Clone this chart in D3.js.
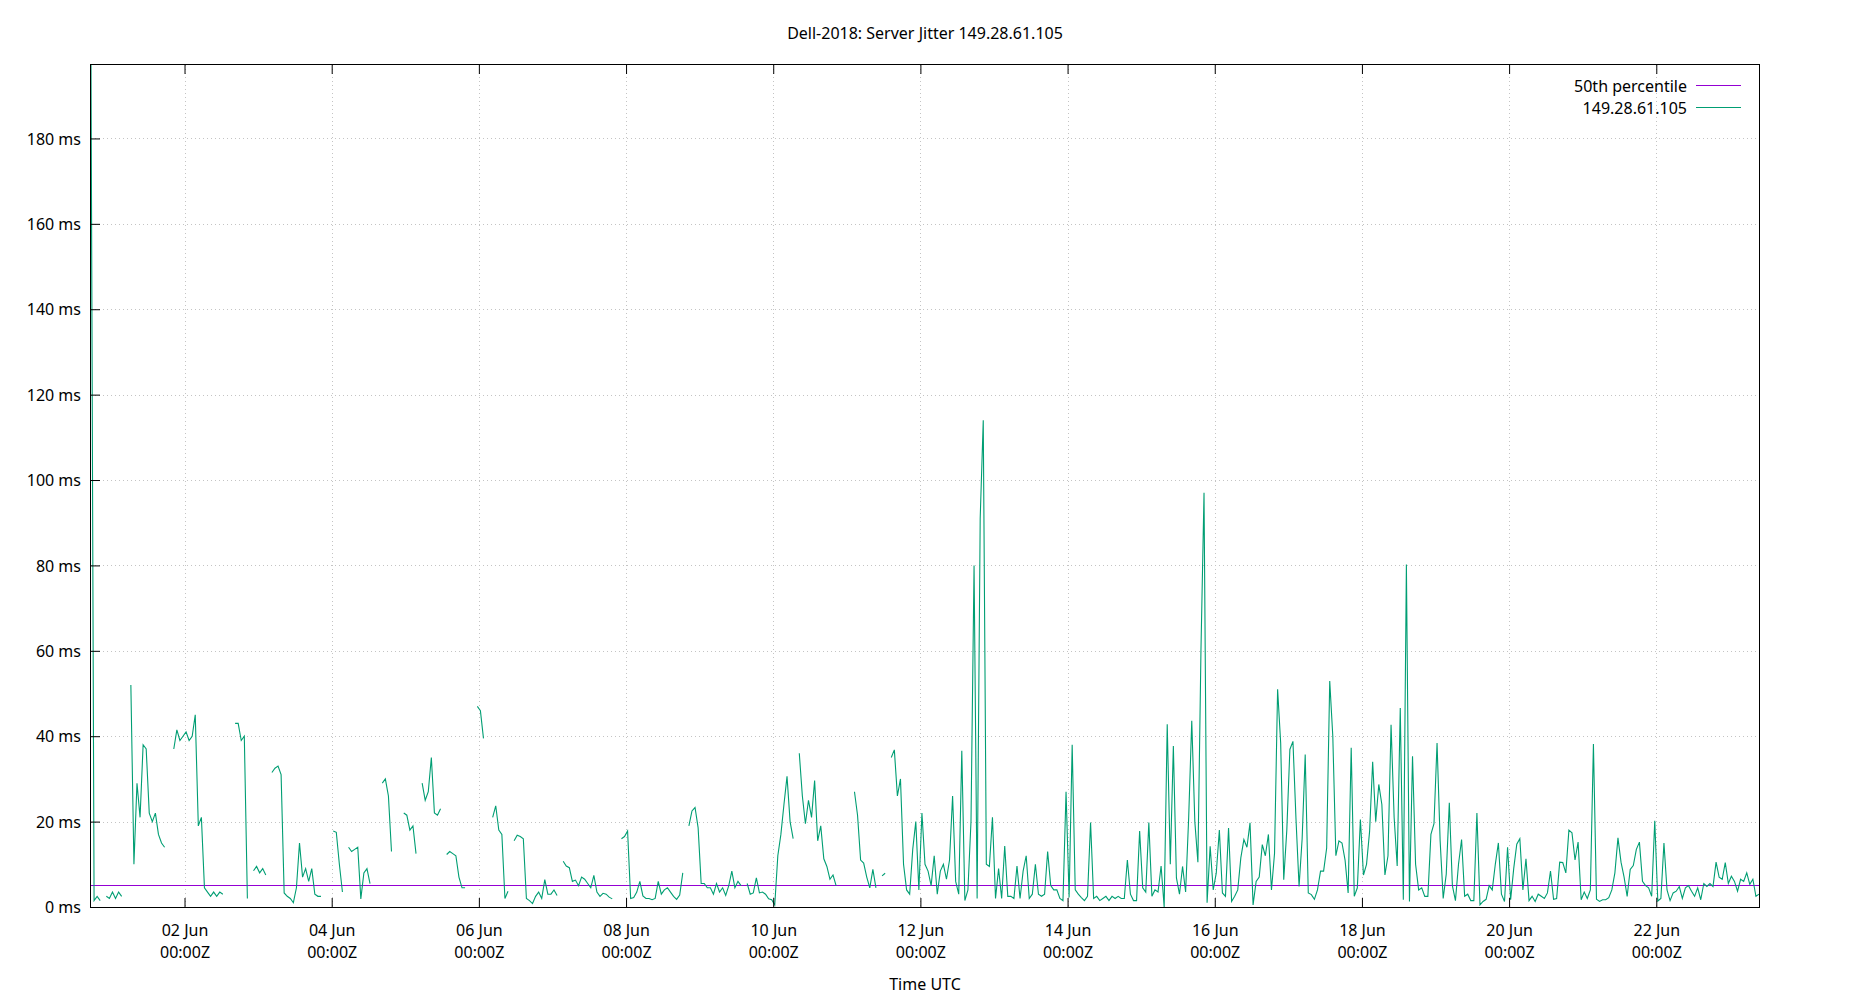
<!DOCTYPE html>
<html>
<head>
<meta charset="utf-8">
<title>Server Jitter</title>
<script src="https://cdn.jsdelivr.net/npm/d3@7"></script>
<style>
    body { margin: 0; background: #fff; }
    svg text { font-family: "Noto Sans", sans-serif; font-size: 16px; fill: #000; }
</style>
</head>
<body>
<div class="jitter-chart"></div>
<script>
(function(){
    const chartTitle = 'Dell-2018: Server Jitter 149.28.61.105';
    const xLabel = 'Time UTC';
    const legendNames = ['50th percentile', '149.28.61.105'];

    // one reading per hour, starting at 31 May 17:30Z; null = no data (gap in the line)
    const seriesStart = '2018-05-31T17:30:00Z';
    const seriesEnd = '2018-06-23T09:30:00Z';
    const ms_31May = [197.2, 1.5, 2.5, 1.5, null, 2.5, 2, 3.5, 2, 3.5,
        2.5, null, null, 52, 10, 29, 21, 38, 37, 22,
        20, 22, 17, 15, 14, null, null, 37, 41.5, 39,
        40, 41, 39, 40, 45, 19, 21, 4.5, 3.5, 2.5,
        3.5, 2.5, 3.5, 3, null, null, null, 43];
    const ms_02Jun = [43, 39, 40, 2, null, 8.5, 9.5, 8, 9, 7.5,
        null, 31.5, 32.5, 33, 31, 3.3, 2.5, 2, 1, 4.5,
        15, 7, 9, 6, 9, 3, 2.5, 2.5, null, null,
        null, 17.8, 17.5, 10, 3.5, null, 14, 13, 13.5, 14,
        1.9, 8, 9, 5.5, null, null, null, 29];
    const ms_04Jun = [30, 26, 13, null, null, null, 22, 21.5, 18, 19,
        12.5, null, 29, 25, 27, 35, 22, 21.5, 23, null,
        12.3, 13, 12.5, 12, 7, 4.5, 4.5, null, null, null,
        47, 46, 39.5, null, null, 21, 23.7, 18, 17, 2,
        3.7, null, 15.5, 16.8, 16.5, 16, 2, 1.5];
    const ms_06Jun = [0.8, 2.5, 3.5, 2, 6.4, 3, 3, 4, 2.7, null,
        10.7, 9.6, 9.2, 6, 6.3, 5, 7, 6.5, 5.5, 4.5,
        7.4, 3.5, 2.5, 3.2, 3, 2.3, 1.9, null, null, 16,
        16.5, 17.8, 2, 2.2, 3.5, 6, 2.6, 2, 2, 1.7,
        2, 6, 3, 4, 4.5, 3.5, 2.5, 1.8];
    const ms_08Jun = [2.8, 8, null, 19, 22.5, 23.3, 18.6, 5.5, 5.5, 4.5,
        4.5, 3, 5.5, 3.5, 4.5, 2.7, 5, 8.4, 4.5, 6,
        5, null, 5.5, 3, 3.3, 6.8, 3.3, 3.5, 3, 1.9,
        1.7, 0.5, 12, 17, 24, 30.6, 20, 16, null, 36,
        26, 19.5, 25, 21, 29.6, 15.5, 19, 11.3];
    const ms_10Jun = [9.5, 6.5, 7.5, 5, null, null, null, null, null, 27,
        21.5, 11, 10.3, 7, 4.5, 8.8, 4.5, null, 7.3, 7.9,
        null, 35, 36.8, 26, 30, 10, 4, 3, 13.5, 20,
        4, 22, 10, 8.4, 5, 12, 3, 8.4, 10, 6.5,
        11, 26, 6, 3, 36.6, 1.5, 4, 20];
    const ms_12Jun = [80, 2, 91, 114, 10, 9.5, 21, 2, 9, 2,
        14.3, 2.5, 2.5, 2, 9.6, 2, 8.4, 12, 2, 3,
        10, 3, 2.5, 3, 13, 5, 4, 4, 2, 1.5,
        27, 2.2, 38, 4, 3, 2.2, 1.5, 2.5, 19.8, 2,
        2.5, 1.5, 2, 2.5, 1.5, 2.5, 2, 2.5];
    const ms_14Jun = [2, 2, 11, 3, 1.5, 1.5, 17.8, 4.5, 3.5, 19.8,
        2.5, 4, 3.5, 9.6, 0, 42.8, 10, 37.7, 6.8, 3,
        9.5, 3.5, 21, 43.6, 20, 10.5, 60, 97, 1, 14.2,
        4, 8, 18, 3.3, 2.5, 18.5, 1.3, 2.5, 4, 11.5,
        15.8, 14, 19.7, 0.5, 6, 7, 14.6, 12];
    const ms_16Jun = [17, 4, 12.6, 51, 38.4, 6.4, 18, 36.9, 38.8, 20.5,
        4.8, 16, 35.7, 3.3, 2.9, 1.8, 4, 8.4, 8.4, 13.8,
        52.9, 40, 12, 15.5, 15, 11, 3.3, 37.3, 2.5, 4.5,
        20.5, 7.5, 10, 17.7, 34, 20, 28.7, 24, 7.5, 12,
        42.7, 21, 9.6, 46.6, 1.7, 80.2, 1.3, 35.3];
    const ms_18Jun = [10, 4, 4.5, 2.5, 2.5, 17, 19.5, 38.4, 15.6, 2,
        7.7, 24.4, 5, 1.5, 10, 15.8, 2.5, 3, 1.5, 1.5,
        22, 0.5, 1.3, 1.8, 5, 4, 10, 15, 3, 1.3,
        14, 1.7, 9, 14.7, 16, 4, 11.3, 1.5, 2.5, 1.3,
        3, 2.5, 2, 3.3, 8.4, 1.8, 2, 10.5];
    const ms_20Jun = [10.4, 8, 18, 17.4, 11, 15.2, 1.7, 3.5, 2, 4,
        38.2, 1.8, 1.3, 1.7, 1.7, 2.2, 4, 8, 16.2, 10.5,
        7, 2.5, 8.8, 9.7, 13.5, 15.2, 6, 5, 4.5, 2.5,
        20.2, 1.4, 2, 15, 4, 1.5, 3.3, 3.7, 4.8, 2,
        4.5, 5, 3.7, 2.5, 4.5, 1.7, 5.5, 4.8];
    const ms_22Jun = [5.5, 4.8, 10.5, 7, 6.5, 10.4, 5.5, 7.2, 6, 3.7,
        6.5, 6, 8, 5.3, 6.5, 2.5, 3];

    const percentile50 = 5.1;
    const yMax = 197.2;
    const yTicks = [0, 20, 40, 60, 80, 100, 120, 140, 160, 180];
    const xTickDays = ['2018-06-02', '2018-06-04', '2018-06-06', '2018-06-08', '2018-06-10',
        '2018-06-12', '2018-06-14', '2018-06-16', '2018-06-18', '2018-06-20', '2018-06-22'];

    function buildSeries() {
        const values = [].concat(ms_31May, ms_02Jun, ms_04Jun, ms_06Jun, ms_08Jun, ms_10Jun,
            ms_12Jun, ms_14Jun, ms_16Jun, ms_18Jun, ms_20Jun, ms_22Jun);
        const t0 = new Date(seriesStart).getTime();
        return values.map((v, i) => ({ date: new Date(t0 + i * 3600e3), value: v }));
    }

    function setupCanvas(points) {
        const svg_width = 1850;
        const svg_height = 1000;
        const margin = { top: 65, right: 91, bottom: 93, left: 91 };
        const width = svg_width - margin.left - margin.right;
        const height = svg_height - margin.top - margin.bottom;

        const svg = d3.select('.jitter-chart').append('svg')
            .attr('width', svg_width).attr('height', svg_height);
        const g = svg.append('g')
            .attr('transform', `translate(${margin.left},${margin.top})`);

        const xScale = d3.scaleUtc()
            .domain([new Date(seriesStart), new Date(seriesEnd)])
            .range([0, width]);
        const yScale = d3.scaleLinear().domain([0, yMax]).range([height, 0]);
        const tickDates = xTickDays.map(d => new Date(d + 'T00:00:00Z'));

        // grid (dotted)
        const grid = g.append('g').attr('class', 'grid')
            .style('stroke', '#c4c4c4').style('stroke-width', 1)
            .style('stroke-dasharray', '1,3');
        grid.selectAll('.gx').data(tickDates).enter().append('line')
            .attr('x1', d => Math.round(xScale(d)) + 0.5).attr('x2', d => Math.round(xScale(d)) + 0.5)
            .attr('y1', 0).attr('y2', height);
        grid.selectAll('.gy').data(yTicks.filter(d => d > 0)).enter().append('line')
            .attr('x1', 0).attr('x2', width)
            .attr('y1', d => Math.round(yScale(d)) + 0.5).attr('y2', d => Math.round(yScale(d)) + 0.5);

        // clip
        svg.append('defs').append('clipPath').attr('id', 'plot-clip')
            .append('rect').attr('width', width).attr('height', height);

        const plot = g.append('g').attr('clip-path', 'url(#plot-clip)');

        // 50th percentile
        plot.append('line')
            .attr('x1', 0).attr('x2', width)
            .attr('y1', Math.round(yScale(percentile50)) + 0.5)
            .attr('y2', Math.round(yScale(percentile50)) + 0.5)
            .style('stroke', '#9400d3').style('stroke-width', 1.2);

        // jitter series
        const lineGen = d3.line()
            .defined(d => d.value != null)
            .x(d => xScale(d.date))
            .y(d => yScale(d.value));
        plot.append('path')
            .attr('d', lineGen(points))
            .style('fill', 'none')
            .style('stroke', '#009e73')
            .style('stroke-width', 1.1)
            .style('stroke-linejoin', 'miter');

        // x axis (bottom) with two-line labels
        const xAxis = d3.axisBottom(xScale).tickValues(tickDates)
            .tickSizeInner(-9).tickSizeOuter(0).tickFormat('');
        const xg = g.append('g').attr('class', 'x axis')
            .attr('transform', `translate(0,${height})`)
            .call(xAxis);
        xg.select('.domain').remove();
        xg.selectAll('.tick line').style('stroke', '#000');
        const fmtDay = d3.utcFormat('%d %b');
        const fmtTime = d3.utcFormat('%H:%MZ');
        xg.selectAll('.tick text').remove();
        xg.selectAll('.tick').append('text')
            .attr('text-anchor', 'middle')
            .each(function(d) {
                const t = d3.select(this);
                t.append('tspan').attr('x', 0).attr('y', 29).text(fmtDay(d));
                t.append('tspan').attr('x', 0).attr('y', 50.5).text(fmtTime(d));
            });

        // mirrored ticks on top
        const xTop = d3.axisTop(xScale).tickValues(tickDates)
            .tickSizeInner(-9).tickSizeOuter(0).tickFormat('');
        const xt = g.append('g').attr('class', 'x axis top').call(xTop);
        xt.select('.domain').remove();
        xt.selectAll('.tick line').style('stroke', '#000');

        // y axis
        const yAxis = d3.axisLeft(yScale).tickValues(yTicks)
            .tickSizeInner(-9).tickSizeOuter(0).tickPadding(10)
            .tickFormat(d => d + ' ms');
        const yg = g.append('g').attr('class', 'y axis').call(yAxis);
        yg.select('.domain').remove();
        yg.selectAll('.tick line').style('stroke', '#000');
        yg.selectAll('.tick text').attr('dy', '0.36em').style('font-size', '16px');

        // border
        g.append('rect')
            .attr('x', -0.5).attr('y', -0.5)
            .attr('width', width + 1).attr('height', height + 1)
            .style('fill', 'none').style('stroke', '#000').style('stroke-width', 1);

        // title and axis label
        svg.append('text')
            .attr('x', margin.left + width / 2).attr('y', 39)
            .attr('text-anchor', 'middle')
            .text(chartTitle);
        svg.append('text')
            .attr('x', margin.left + width / 2).attr('y', 990)
            .attr('text-anchor', 'middle')
            .text(xLabel);

        // legend
        const legendColors = ['#9400d3', '#009e73'];
        const legend = svg.append('g').attr('class', 'legend');
        legendNames.forEach((name, i) => {
            const ly = 85 + i * 22;
            legend.append('text')
                .attr('x', 1687).attr('y', ly + 6.5)
                .attr('text-anchor', 'end')
                .text(name);
            legend.append('line')
                .attr('x1', 1696).attr('x2', 1741)
                .attr('y1', ly + 0.5).attr('y2', ly + 0.5)
                .style('stroke', legendColors[i]).style('stroke-width', 1.2);
        });
    }

    setupCanvas(buildSeries());
})();
</script>
</body>
</html>
